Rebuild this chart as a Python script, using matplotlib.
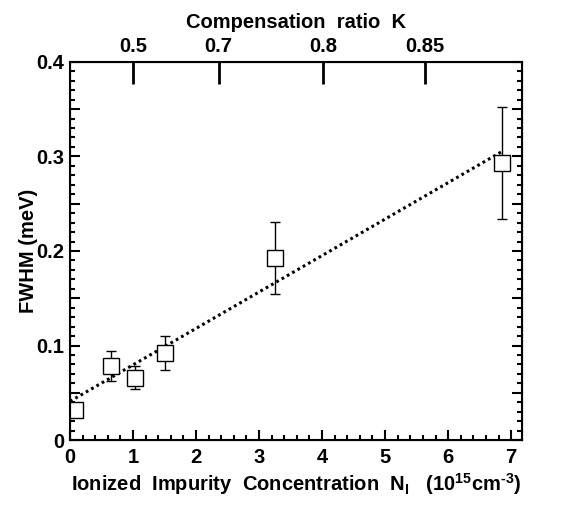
import numpy as np
import matplotlib
matplotlib.use("Agg")
import matplotlib.pyplot as plt
from matplotlib.ticker import MultipleLocator, FuncFormatter

plt.rcParams['font.family'] = ['Liberation Sans', 'DejaVu Sans']
plt.rcParams['font.weight'] = 'bold'
plt.rcParams['mathtext.fontset'] = 'custom'
plt.rcParams['mathtext.rm'] = 'Liberation Sans:bold'
plt.rcParams['mathtext.bf'] = 'Liberation Sans:bold'
plt.rcParams['mathtext.default'] = 'rm'
plt.rcParams['axes.unicode_minus'] = False

# measured points
conc = [0.08, 0.65, 1.03, 1.50, 3.25, 6.85]
fwhm = [0.032, 0.078, 0.066, 0.092, 0.193, 0.293]
fwhm_err = [0.0, 0.016, 0.012, 0.018, 0.038, 0.059]

# linear fit
fit_x = [0.0, 6.85]
fit_y = [0.041, 0.305]

# top axis: compensation ratio K at concentration positions
k_pos = [1.0, 2.36, 4.02, 5.63]
k_labels = ['0.5', '0.7', '0.8', '0.85']

x_ticks = [0, 1, 2, 3, 4, 5, 6, 7]
y_ticks = [0, 0.1, 0.2, 0.3, 0.4]

fs = 14.5

fig = plt.figure(figsize=(5.86, 5.07), dpi=100)
ax = fig.add_axes([0.1195, 0.132, 0.771, 0.746])

ax.plot(fit_x, fit_y, color='black', lw=2.2, ls=(0, (0.9, 1.1)))
ax.errorbar(conc, fwhm, yerr=fwhm_err, fmt='none', ecolor='black',
            elinewidth=1.0, capsize=3.5, capthick=1.0)
ax.plot(conc, fwhm, ls='none', marker='s', ms=11, mfc='white',
        mec='black', mew=1.0)

ax.set_xlim(0, 7.17)
ax.set_ylim(0, 0.4)
ax.set_xticks(x_ticks)
ax.xaxis.set_minor_locator(MultipleLocator(0.2))
ax.yaxis.set_major_locator(MultipleLocator(0.05))
ax.yaxis.set_minor_locator(MultipleLocator(0.01))
ax.yaxis.set_major_formatter(FuncFormatter(
    lambda v, p: ('0' if abs(v) < 1e-9 else '%g' % v)
    if min(abs(v - t) for t in y_ticks) < 1e-9 else ''))

ax.tick_params(which='both', direction='in', top=True, right=True,
               width=1.5, labelsize=fs)
ax.tick_params(which='major', length=7)
ax.tick_params(which='minor', length=3.5)
ax.tick_params(axis='x', pad=6)
ax.tick_params(axis='y', pad=4)
for s in ax.spines.values():
    s.set_linewidth(1.5)

ax.set_xlabel(r'Ionized  Impurity  Concentration  N$_\mathregular{I}$   (10$^{15}$cm$^{\text{-}3}$)',
              fontsize=fs, fontweight='bold', labelpad=3)
ax.set_ylabel('FWHM (meV)', fontsize=fs, fontweight='bold', labelpad=-1)

ax2 = ax.twiny()
ax2.set_xlim(ax.get_xlim())
ax2.set_xticks(k_pos)
ax2.set_xticklabels(k_labels)
ax2.tick_params(axis='x', direction='in', length=16, width=2,
                labelsize=fs, pad=4)
ax2.set_xlabel('Compensation  ratio  K', fontsize=fs, fontweight='bold',
               labelpad=7)

fig.savefig('out.png', dpi=100)
